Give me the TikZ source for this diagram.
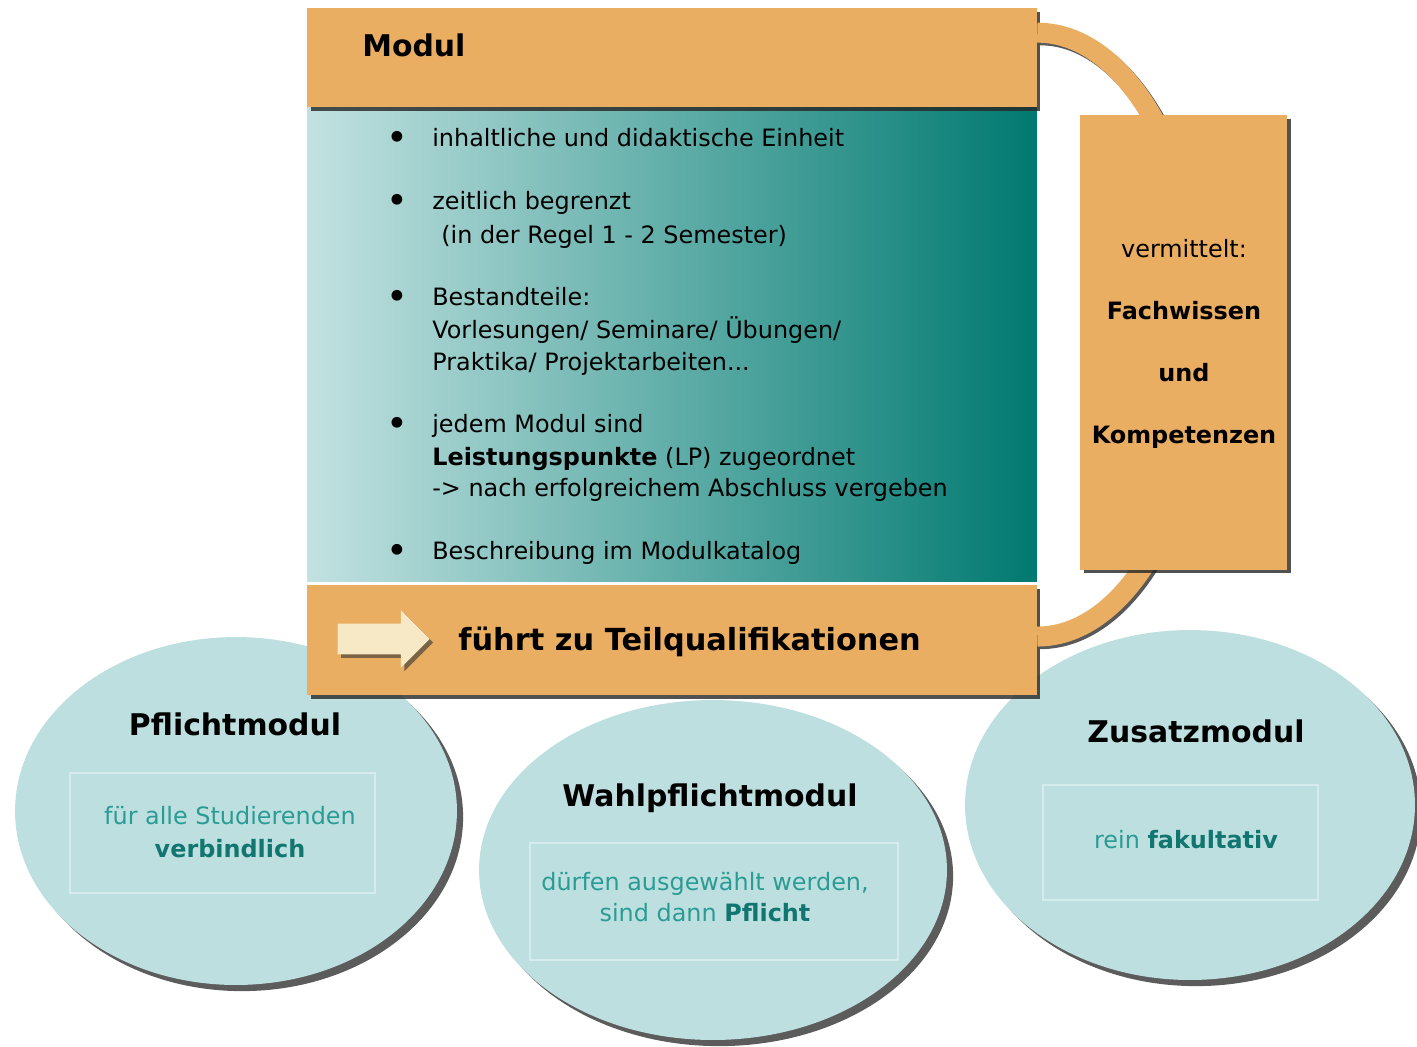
\documentclass[tikz,border=0pt]{standalone}
\usepackage{fontspec}
\setmainfont{DejaVu Sans}
\usetikzlibrary{shapes.geometric,shapes.arrows,shadows}
\definecolor{modorange}{RGB}{233,174,98}
\definecolor{tealhell}{RGB}{194,226,225}
\definecolor{tealdunkel}{RGB}{0,121,112}
\definecolor{ovalfill}{RGB}{189,223,223}
\definecolor{ovalrand}{RGB}{214,236,236}
\definecolor{ovaltext}{RGB}{42,156,148}
\definecolor{ovalbold}{RGB}{18,118,112}
\definecolor{pfeilfarbe}{RGB}{247,233,198}
\tikzstyle{balken}=[rectangle,fill=modorange,inner sep=0pt,drop shadow={shadow xshift=2pt,shadow yshift=-2pt,opacity=.8,fill=black!85}]
\tikzstyle{oval}=[ellipse,fill=ovalfill,inner sep=0pt,drop shadow={shadow xshift=3.5pt,shadow yshift=-3.5pt,opacity=.8,fill=black!80}]
\tikzstyle{kasten}=[rectangle,draw=ovalrand,line width=1.2pt,inner sep=0pt]
\tikzstyle{bogen}=[draw=modorange,line width=0.4cm,preaction={draw=black!65,line width=0.4cm,transform canvas={xshift=1.5pt,yshift=-1.5pt}}]
\tikzstyle{txt}=[inner sep=0pt,anchor=base west,font=\fontsize{13.6}{18}\selectfont]
\tikzstyle{pkt}=[inner sep=0pt,anchor=base,font=\fontsize{21}{24}\selectfont]
\tikzstyle{mtxt}=[inner sep=0pt,anchor=base,font=\fontsize{13.6}{18}\selectfont]
\tikzstyle{titel}=[inner sep=0pt,anchor=base,font=\fontsize{17}{20}\selectfont\bfseries]
\tikzstyle{ovtxt}=[inner sep=0pt,anchor=base,text=ovaltext,font=\fontsize{13.6}{18}\selectfont]

\begin{document}
\begin{tikzpicture}[x=0.02cm,y=-0.02cm]
	\useasboundingbox (0,0) rectangle (1417,1046);
	% die drei Modularten
	\node[oval,minimum width=8.84cm,minimum height=6.96cm] (pflicht) at (236,811) {};
	\node[oval,minimum width=9.36cm,minimum height=6.8cm] (wahl) at (713,870) {};
	\node[oval,minimum width=9cm,minimum height=7cm] (zusatz) at (1190,805) {};
	\node[kasten,minimum width=6.1cm,minimum height=2.4cm] (kpflicht) at (222.5,833) {};
	\node[kasten,minimum width=7.36cm,minimum height=2.34cm] (kwahl) at (714,901.5) {};
	\node[kasten,minimum width=5.5cm,minimum height=2.3cm] (kzusatz) at (1180.5,842.5) {};
	% Modul
	\node[rectangle,inner sep=0pt,minimum width=14.6cm,minimum height=9.5cm,left color=tealhell,right color=tealdunkel] (inhalt) at (672,344.5) {};
	\node[balken,minimum width=14.6cm,minimum height=1.98cm] (kopf) at (672,57.5) {};
	\node[balken,minimum width=14.6cm,minimum height=2.2cm] (fuss) at (672,640) {};
	\draw[bogen] (kopf.north east) ++(0,25) arc[start angle=90,end angle=-90,x radius=3.32cm,y radius=6.04cm];
	\node[balken,minimum width=4.14cm,minimum height=9.1cm] (ziel) at (1183.5,342.5) {};
	\node[single arrow,fill=pfeilfarbe,inner sep=0pt,text height=0.3cm,text depth=0.3cm,minimum height=1.84cm,single arrow head extend=0.27cm,drop shadow={shadow xshift=2pt,shadow yshift=-2pt,opacity=.6,fill=black!80}] (pfeil) at (376,639) {};
	% Texte
	\node[titel,anchor=base west] (modul) at (362,56) {Modul};
	\node[pkt] (p1) at (397,150) {\textbullet};
	\node[pkt] (p2) at (397,213) {\textbullet};
	\node[pkt] (p3) at (397,309) {\textbullet};
	\node[pkt] (p4) at (397,436) {\textbullet};
	\node[pkt] (p5) at (397,563) {\textbullet};
	\node[txt] (z1) at (432,146) {inhaltliche und didaktische Einheit};
	\node[txt] (z2) at (432,209) {zeitlich begrenzt};
	\node[txt] (z3) at (441,243) {(in der Regel 1 - 2 Semester)};
	\node[txt] (z4) at (432,305) {Bestandteile:};
	\node[txt] (z5) at (432,338) {Vorlesungen/ Seminare/ Übungen/};
	\node[txt] (z6) at (432,370) {Praktika/ Projektarbeiten...};
	\node[txt] (z7) at (432,432) {jedem Modul sind};
	\node[txt] (z8) at (432,465) {\textbf{Leistungspunkte} (LP) zugeordnet};
	\node[txt] (z9) at (432,496) {-> nach erfolgreichem Abschluss vergeben};
	\node[txt] (z10) at (432,559) {Beschreibung im Modulkatalog};
	\node[titel,anchor=base west,font=\fontsize{17.3}{20}\selectfont\bfseries] (teilq) at (458,650) {führt zu Teilqualifikationen};
	\node[mtxt] (v1) at (1184,257) {vermittelt:};
	\node[mtxt] (v2) at (1184,319) {\textbf{Fachwissen}};
	\node[mtxt] (v3) at (1184,381) {\textbf{und}};
	\node[mtxt] (v4) at (1184,443) {\textbf{Kompetenzen}};
	\node[titel] (tpflicht) at (235,735) {Pflichtmodul};
	\node[titel] (twahl) at (710,806) {Wahlpflichtmodul};
	\node[titel] (tzusatz) at (1196,742) {Zusatzmodul};
	\node[ovtxt] (o1) at (230,824) {für alle Studierenden};
	\node[ovtxt] (o2) at (230,857) {\textcolor{ovalbold}{\textbf{verbindlich}}};
	\node[ovtxt] (o3) at (705,890) {dürfen ausgewählt werden,};
	\node[ovtxt] (o4) at (705,921) {sind dann \textcolor{ovalbold}{\textbf{Pflicht}}};
	\node[ovtxt] (o5) at (1186,848) {rein \textcolor{ovalbold}{\textbf{fakultativ}}};
\end{tikzpicture}
\end{document}
